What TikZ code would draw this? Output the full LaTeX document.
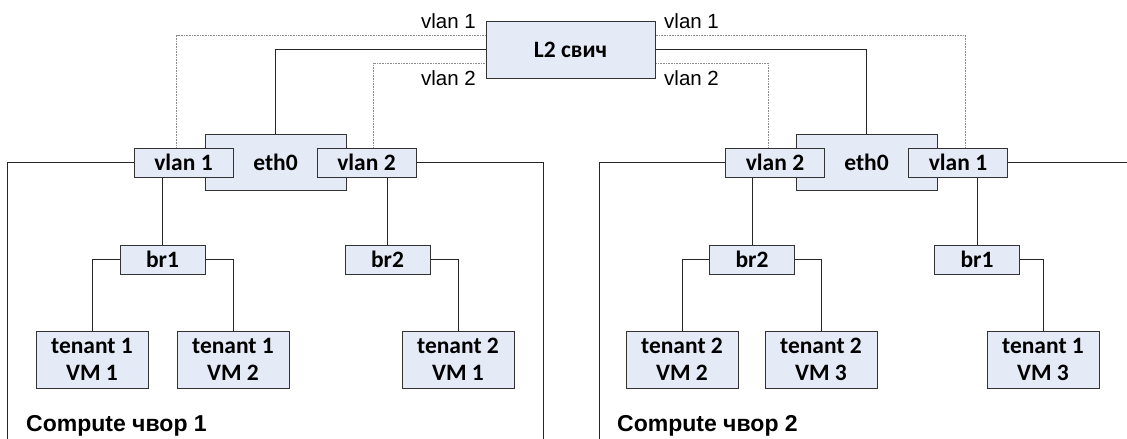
\documentclass[tikz,border=0pt]{standalone}
\usepackage{fontspec}
\setmainfont{Carlito}
\newfontfamily\arialfont{Liberation Sans}
\usetikzlibrary{positioning}
\definecolor{boxfill}{RGB}{228,235,246}
\tikzset{
  box/.style={draw=black!80, fill=boxfill, line width=1pt, inner sep=0pt,
    font=\fontsize{23.5}{27}\selectfont\bfseries, align=center},
  vlanbox/.style={box, minimum width=99pt, minimum height=29pt},
  brbox/.style={box, minimum width=85pt, minimum height=29pt},
  vmbox/.style={box, minimum width=112pt, minimum height=57pt},
  ethbox/.style={box, minimum width=141pt, minimum height=56pt},
  link/.style={draw=black!85, line width=0.9pt},
  vlanlink/.style={draw=black!45, line width=1pt, dash pattern=on 1pt off 0.6pt},
  lbl/.style={font=\arialfont\fontsize{20.5}{22}\selectfont, inner sep=0pt},
  hostlbl/.style={font=\arialfont\bfseries\fontsize{23}{25}\selectfont, inner sep=0pt}
}
\begin{document}
\begin{tikzpicture}[x=1pt, y=-1pt]
  \useasboundingbox (0,0) rectangle (1127,439);

  % switch
  \node[box, minimum width=169pt, minimum height=57pt] (sw) at (570.5, 49.5) {L2 свич};
  \node[lbl, anchor=base east] (swl1) at (476, 28) {vlan 1};
  \node[lbl, anchor=base east] (swl2) at (476, 85) {vlan 2};
  \node[lbl, anchor=base west] (swr1) at (664, 28) {vlan 1};
  \node[lbl, anchor=base west] (swr2) at (664, 85) {vlan 2};

  % compute node 1
  \node[ethbox] (ethA) at (275.5, 162) {eth0};
  \node[vlanbox] (vlanA1) at (183.5, 162.5) {vlan 1};
  \node[vlanbox] (vlanA2) at (366.5, 162.5) {vlan 2};
  \node[brbox] (brA1) at (162.5, 259.5) {br1};
  \node[brbox] (brA2) at (387.5, 259.5) {br2};
  \node[vmbox] (vmA1) at (92, 359.5) {tenant 1\\VM 1};
  \node[vmbox] (vmA2) at (233, 359.5) {tenant 1\\VM 2};
  \node[vmbox] (vmA3) at (458, 359.5) {tenant 2\\VM 1};
  \node[hostlbl, anchor=base west] (hostA) at (26, 431) {Compute чвор 1};
  \coordinate (edgeA1) at (7, 439);
  \coordinate (edgeA2) at (543, 439);

  % compute node 2
  \node[ethbox] (ethB) at (866.5, 162) {eth0};
  \node[vlanbox] (vlanB2) at (775, 162.5) {vlan 2};
  \node[vlanbox] (vlanB1) at (958, 162.5) {vlan 1};
  \node[brbox] (brB2) at (752, 259.5) {br2};
  \node[brbox] (brB1) at (977, 259.5) {br1};
  \node[vmbox] (vmB1) at (682, 359.5) {tenant 2\\VM 2};
  \node[vmbox] (vmB2) at (821, 359.5) {tenant 2\\VM 3};
  \node[vmbox] (vmB3) at (1043, 359.5) {tenant 1\\VM 3};
  \node[hostlbl, anchor=base west] (hostB) at (617, 431) {Compute чвор 2};
  \coordinate (edgeB1) at (599, 439);
  \coordinate (edgeB2) at (1127, 162.5);

  % trunks to the switch
  \draw[link] (ethA.north) |- (sw.west);
  \draw[link] (ethB.north) |- (sw.east);
  \draw[vlanlink] ([xshift=-7pt]vlanA1.north) |- ([yshift=14.5pt]sw.west);
  \draw[vlanlink] ([xshift=7pt]vlanA2.north) |- ([yshift=-13.5pt]sw.west);
  \draw[vlanlink] ([xshift=7pt]vlanB1.north) |- ([yshift=14.5pt]sw.east);
  \draw[vlanlink] ([xshift=-7pt]vlanB2.north) |- ([yshift=-13.5pt]sw.east);

  % node borders
  \draw[link] (vlanA1.west) -| (edgeA1);
  \draw[link] (vlanA2.east) -| (edgeA2);
  \draw[link] (vlanB2.west) -| (edgeB1);
  \draw[link] (vlanB1.east) -- (edgeB2);

  % bridges and vms
  \draw[link] (brA1.north) -- (brA1.north |- vlanA1.south);
  \draw[link] (brA2.north) -- (brA2.north |- vlanA2.south);
  \draw[link] (brA1.west) -| (vmA1.north);
  \draw[link] (brA1.east) -| (vmA2.north);
  \draw[link] (brA2.east) -| (vmA3.north);
  \draw[link] (brB2.north) -- (brB2.north |- vlanB2.south);
  \draw[link] (brB1.north) -- (brB1.north |- vlanB1.south);
  \draw[link] (brB2.west) -| (vmB1.north);
  \draw[link] (brB2.east) -| (vmB2.north);
  \draw[link] (brB1.east) -| (vmB3.north);
\end{tikzpicture}
\end{document}
